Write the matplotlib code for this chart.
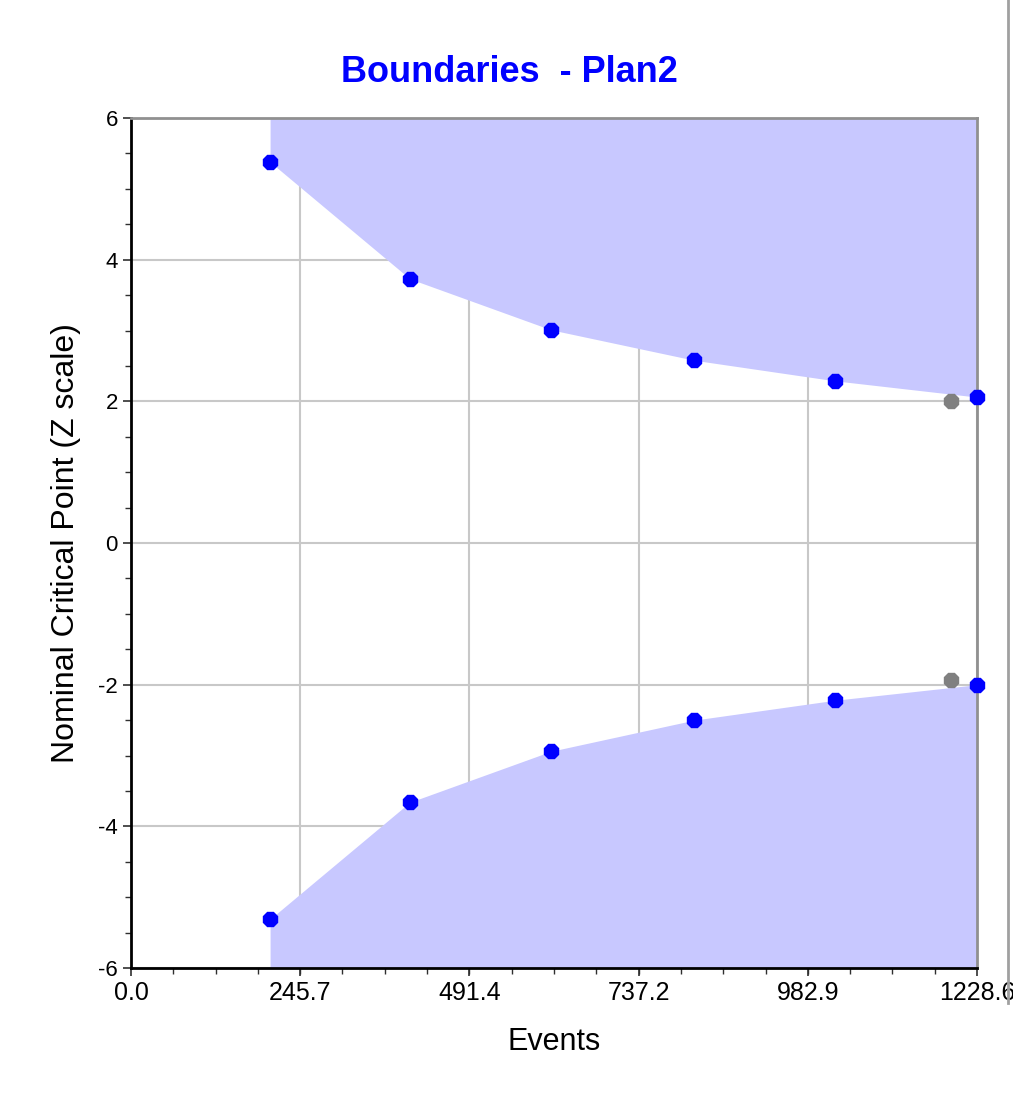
import matplotlib
matplotlib.use("Agg")
import matplotlib.pyplot as plt
import numpy as np

# boundary values
events = [202.0, 405.0, 610.0, 818.0, 1022.0, 1228.6]
upper = [5.38, 3.73, 3.01, 2.58, 2.29, 2.06]
lower = [-5.31, -3.66, -2.94, -2.50, -2.22, -2.00]

# gray (nominal) points
gray_events = [1191.0, 1191.0]
gray_z = [2.00, -1.93]

xticks = [0.0, 245.7, 491.4, 737.2, 982.9, 1228.6]
xtick_labels = ["0.0", "245.7", "491.4", "737.2", "982.9", "1228.6"]
yticks = [-6, -4, -2, 0, 2, 4, 6]
ytick_labels = ["-6", "-4", "-2", "0", "2", "4", "6"]

plt.rcParams['font.family'] = ['Liberation Sans', 'DejaVu Sans']

fig = plt.figure(figsize=(10.13, 11.02), dpi=100)
ax = fig.add_axes([0.1293, 0.1216, 0.8352, 0.7713])
ax.set_axisbelow(True)

fill_col = '#c8c8ff'
ax.fill_between(events, upper, 6, color=fill_col, lw=0, zorder=1)
ax.fill_between(events, lower, -6, color=fill_col, lw=0, zorder=1)

ax.plot(events, upper, ls='none', marker='8', ms=11, color='#0000ff', zorder=4, clip_on=False)
ax.plot(events, lower, ls='none', marker='8', ms=11, color='#0000ff', zorder=4, clip_on=False)
ax.plot(gray_events, gray_z, ls='none', marker='8', ms=11, color='#808080', zorder=4)

ax.set_xlim(0, 1228.6)
ax.set_ylim(-6, 6)
ax.set_xticks(xticks)
ax.set_xticklabels(xtick_labels, fontsize=18)
ax.set_yticks(yticks)
ax.set_yticklabels(ytick_labels, fontsize=16)
ax.set_xticks(np.arange(0, 1228.7, 245.72 / 4), minor=True)
ax.set_yticks(np.arange(-6, 6.1, 0.5), minor=True)

ax.grid(True, which='major', color='#c8c8c8', lw=1.5, zorder=0)

ax.tick_params(which='major', direction='out', length=6, width=1.2, color='#303030')
ax.tick_params(which='minor', direction='out', length=4, width=1.0, color='#303030')

ax.spines['left'].set_color('black')
ax.spines['left'].set_linewidth(2)
ax.spines['bottom'].set_color('black')
ax.spines['bottom'].set_linewidth(2)
ax.spines['top'].set_color('#909090')
ax.spines['top'].set_linewidth(2)
ax.spines['right'].set_color('#909090')
ax.spines['right'].set_linewidth(2)

fig.text(0.503, 0.934, "Boundaries  - Plan2", color='#0000ff', fontsize=26,
         fontweight='bold', ha='center', va='center')
ax.set_xlabel("Events", fontsize=22, labelpad=16)
ax.set_ylabel("Nominal Critical Point (Z scale)", fontsize=23, labelpad=12)

# window border on the right
fig.add_artist(plt.Line2D([0.995, 0.995], [0.09, 1.0], color='#a0a0a0', lw=2, transform=fig.transFigure))

fig.savefig("out.png", dpi=100)
